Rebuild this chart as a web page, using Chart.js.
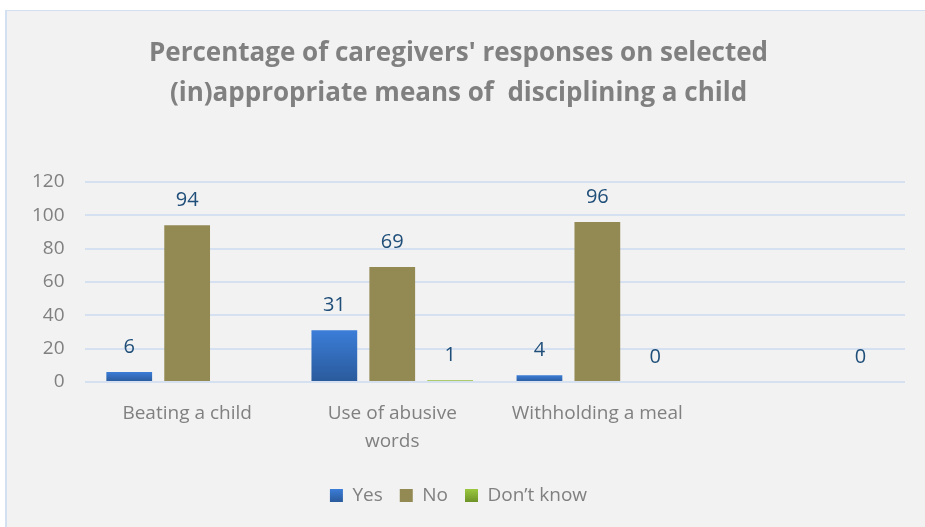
<!DOCTYPE html>
<html>
<head>
<meta charset="utf-8">
<script src="https://cdn.jsdelivr.net/npm/chart.js@4"></script>
<style>
    html, body { margin: 0; padding: 0; background: #ffffff; }
    #frame {
        position: absolute;
        left: 5px;
        top: 10px;
        width: 940px;
        height: 540px;
        background: #f2f2f2;
        border-left: 2px solid #d3e0f1;
        border-top: 1px solid #d3e0f1;
    }
    #chart-box { position: absolute; left: 0; top: 0; width: 920px; height: 517px; }
</style>
</head>
<body>
<div id="frame">
    <div id="chart-box"><canvas id="discipline-chart"></canvas></div>
</div>
<script>
// categories and responses (percent)
var categories = ["Beating a child", ["Use of abusive", "words"], "Withholding a meal", ""];
var yesValues = [6, 31, 4, null];
var noValues = [94, 69, 96, null];
var dontKnowValues = [null, 1, 0, 0];
var yTicks = [0, 20, 40, 60, 80, 100, 120];

const FONT = "'Open Sans', 'DejaVu Sans', sans-serif";
const GREY = '#808080';

var seriesColors = [
    ['#3b7dd8', '#2a5a9b'],
    ['#938953', '#938953'],
    ['#9bc83f', '#6e9328']
];

function verticalGradient(ctx, y0, y1, c) {
    var g = ctx.createLinearGradient(0, y0, 0, y1);
    g.addColorStop(0, c[0]);
    g.addColorStop(1, c[1]);
    return g;
}

// each bar gets its own gradient, from its top down to the zero line
function barGradient(c) {
    return function (context) {
        var chart = context.chart;
        if (!chart.chartArea || context.type !== 'data' || context.parsed == null || context.parsed.y == null) return c[0];
        var y0 = chart.scales.y.getPixelForValue(context.parsed.y);
        var y1 = chart.scales.y.getPixelForValue(0);
        if (y1 - y0 < 1) y0 = y1 - 1;
        return verticalGradient(chart.ctx, y0, y1, c);
    };
}

// value labels above each bar
const valueLabels = {
    id: 'valueLabels',
    afterDatasetsDraw(chart) {
        const ctx = chart.ctx;
        ctx.save();
        ctx.font = "20px " + FONT;
        ctx.fillStyle = '#1f4e79';
        ctx.textAlign = 'center';
        ctx.textBaseline = 'middle';
        chart.data.datasets.forEach(function (ds, i) {
            const meta = chart.getDatasetMeta(i);
            meta.data.forEach(function (bar, j) {
                if (ds.data[j] == null) return;
                ctx.fillText(String(ds.data[j]), bar.x, bar.y - 25);
            });
        });
        ctx.restore();
    }
};

// legend swatches use the same gradients, placed once the legend is laid out
const legendGradients = {
    id: 'legendGradients',
    beforeDraw(chart) {
        var legend = chart.legend;
        if (!legend || !legend.legendItems || !legend.legendHitBoxes) return;
        legend.legendItems.forEach(function (item, i) {
            var hb = legend.legendHitBoxes[i];
            var y0 = hb.top + (hb.height - 13) / 2;
            item.fillStyle = verticalGradient(chart.ctx, y0, y0 + 13, seriesColors[item.datasetIndex]);
            item.strokeStyle = 'rgba(0,0,0,0)';
            item.lineWidth = 0;
        });
    }
};

const ctx = document.getElementById('discipline-chart').getContext('2d');
var disciplineChart = new Chart(ctx, {
    type: 'bar',
    data: {
        labels: categories,
        datasets: [{
            label: 'Yes',
            data: yesValues,
            backgroundColor: barGradient(seriesColors[0])
        }, {
            label: 'No',
            data: noValues,
            backgroundColor: seriesColors[1][0]
        }, {
            label: 'Don\u2019t know',
            data: dontKnowValues,
            backgroundColor: barGradient(seriesColors[2])
        }]
    },
    options: {
        responsive: true,
        maintainAspectRatio: false,
        animation: false,
        categoryPercentage: 0.847,
        barPercentage: 0.79,
        layout: { padding: { left: 5, right: 22, top: 0, bottom: 13 } },
        plugins: {
            title: {
                display: true,
                text: ["Percentage of caregivers' responses on selected", "(in)appropriate means of  disciplining a child"],
                color: GREY,
                font: { family: FONT, size: 26, weight: 'bold', lineHeight: 1.54 },
                padding: { top: 23, bottom: 68 }
            },
            legend: {
                position: 'bottom',
                labels: {
                    color: GREY,
                    font: { family: FONT, size: 19 },
                    boxWidth: 13,
                    boxHeight: 13,
                    padding: 17
                }
            },
            tooltip: { enabled: false }
        },
        scales: {
            x: {
                grid: { display: false },
                border: { display: false },
                afterFit: function (axis) { axis.height += 4; },
                ticks: { color: GREY, font: { family: FONT, size: 19, lineHeight: 1.45 }, padding: 10, maxRotation: 0 }
            },
            y: {
                min: 0,
                max: 120,
                afterBuildTicks: function (axis) {
                    axis.ticks = yTicks.map(function (v) { return { value: v }; });
                },
                grid: { color: '#d5e1f1', lineWidth: 2, drawTicks: false },
                border: { display: false },
                ticks: { color: GREY, font: { family: FONT, size: 19 }, padding: 20 }
            }
        }
    },
    plugins: [valueLabels, legendGradients]
});
</script>
</body>
</html>
